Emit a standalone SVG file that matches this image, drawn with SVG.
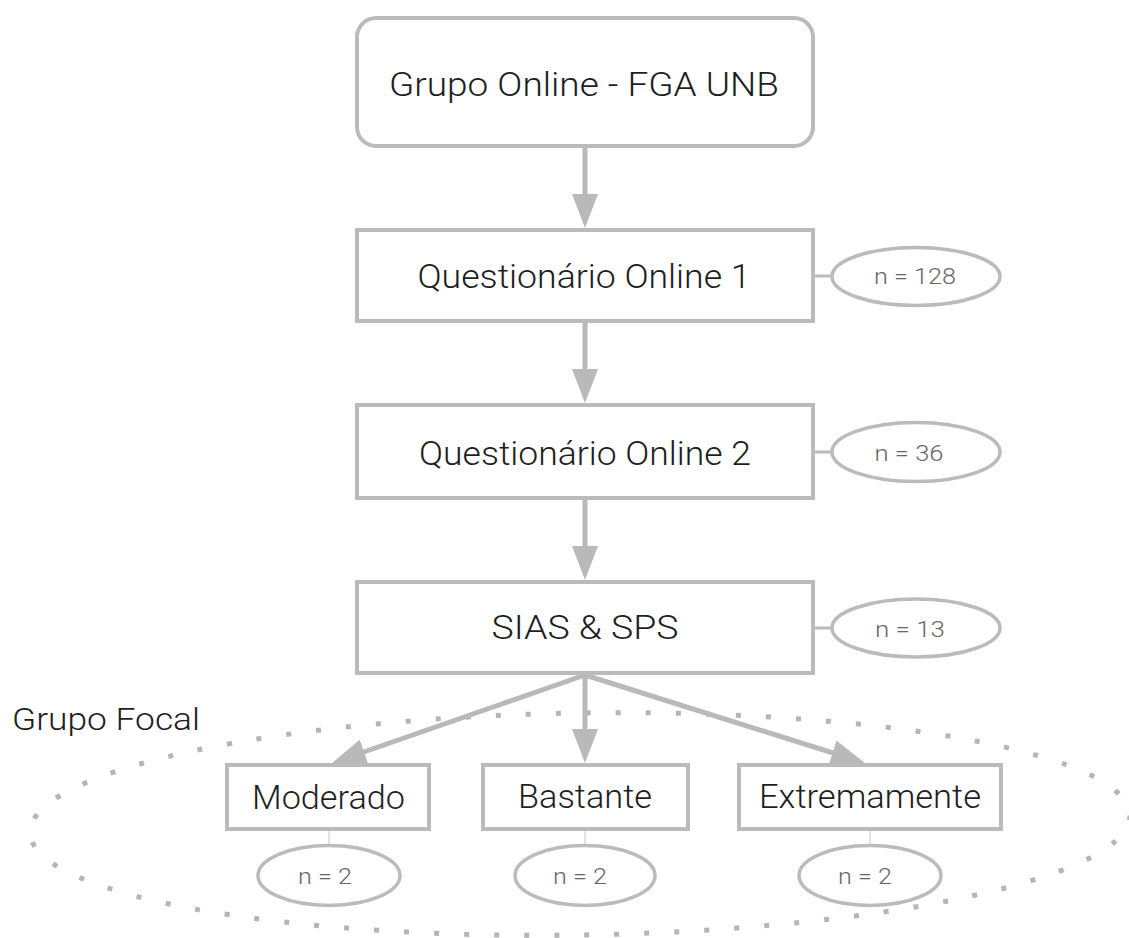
<svg xmlns="http://www.w3.org/2000/svg" width="1129" height="938" viewBox="0 0 1129 938">
  <style>
    .box { fill: #ffffff; stroke: #bbbbbb; stroke-width: 4; }
    .count { fill: #ffffff; stroke: #bbbbbb; stroke-width: 3.5; }
    .label { font-family: Roboto, "Liberation Sans", Arial, sans-serif; font-weight: 300; font-size: 34px; fill: #1e1e1e; text-anchor: middle; }
    .small { font-size: 32px; }
    .n { font-family: Roboto, "Liberation Sans", Arial, sans-serif; font-weight: 300; font-size: 22px; fill: #666666; text-anchor: middle; }
    .flow { stroke: #b9b9b9; stroke-width: 5; fill: none; }
    .tie { stroke: #bbbbbb; stroke-width: 3; fill: none; }
    .tie-thin { stroke: #d2d2d2; stroke-width: 1.2; fill: none; }
  </style>
  <defs>
    <marker id="head" markerUnits="userSpaceOnUse" markerWidth="34" markerHeight="26" viewBox="0 0 34 26" refX="14" refY="13" orient="auto">
      <path d="M0,0 L34,13 L0,26 Z" fill="#b9b9b9"/>
    </marker>
  </defs>

  <rect width="1129" height="938" fill="#ffffff"/>

  <!-- focal group boundary -->
  <g id="grupo-focal">
    <ellipse cx="580" cy="824" rx="550" ry="111" transform="rotate(-0.9 580 824)" fill="none" stroke="#b5b5b5" stroke-width="5" stroke-dasharray="5 25" pathLength="2310"/>
    <text x="12" y="730" class="label small" style="text-anchor:start" textLength="188" lengthAdjust="spacingAndGlyphs">Grupo Focal</text>
  </g>

  <!-- connectors -->
  <g id="connectors">
    <line class="flow" x1="585" y1="148" x2="585" y2="208" marker-end="url(#head)"/>
    <line class="flow" x1="585" y1="323" x2="585" y2="383" marker-end="url(#head)"/>
    <line class="flow" x1="585" y1="500" x2="585" y2="560" marker-end="url(#head)"/>
    <line class="flow" x1="585" y1="675" x2="585" y2="743" marker-end="url(#head)"/>
    <line class="flow" x1="585" y1="675" x2="350.9" y2="756.5" marker-end="url(#head)"/>
    <line class="flow" x1="585" y1="675" x2="845.9" y2="757" marker-end="url(#head)"/>

    <line class="tie" x1="815" y1="276" x2="832" y2="276"/>
    <line class="tie" x1="815" y1="452" x2="832" y2="452"/>
    <line class="tie" x1="815" y1="628" x2="832" y2="628"/>

    <line class="tie-thin" x1="329" y1="831" x2="329" y2="845"/>
    <line class="tie-thin" x1="585" y1="831" x2="585" y2="845"/>
    <line class="tie-thin" x1="870" y1="831" x2="870" y2="845"/>
  </g>

  <g id="grupo-online">
    <rect class="box" x="357" y="18" width="456" height="128" rx="19"/>
    <text class="label" x="584" y="96" textLength="390" lengthAdjust="spacingAndGlyphs">Grupo Online - FGA UNB</text>
  </g>

  <g id="questionario-1">
    <rect class="box" x="357" y="230" width="456" height="91"/>
    <text class="label" x="584" y="288" textLength="333" lengthAdjust="spacingAndGlyphs">Questionário Online 1</text>
  </g>
  <g id="n-128">
    <ellipse class="count" cx="916" cy="276.5" rx="84" ry="29"/>
    <text class="n" x="915" y="284" textLength="82" lengthAdjust="spacingAndGlyphs">n = 128</text>
  </g>

  <g id="questionario-2">
    <rect class="box" x="357" y="405" width="456" height="93"/>
    <text class="label" x="585" y="465" textLength="332" lengthAdjust="spacingAndGlyphs">Questionário Online 2</text>
  </g>
  <g id="n-36">
    <ellipse class="count" cx="916" cy="452" rx="84" ry="29.5"/>
    <text class="n" x="909" y="461" textLength="69" lengthAdjust="spacingAndGlyphs">n = 36</text>
  </g>

  <g id="sias-sps">
    <rect class="box" x="357" y="582" width="456" height="91"/>
    <text class="label" x="585" y="639" textLength="187" lengthAdjust="spacingAndGlyphs">SIAS &amp; SPS</text>
  </g>
  <g id="n-13">
    <ellipse class="count" cx="916" cy="628" rx="84" ry="29"/>
    <text class="n" x="910" y="637" textLength="70" lengthAdjust="spacingAndGlyphs">n = 13</text>
  </g>

  <g id="moderado">
    <rect class="box" x="227" y="765" width="202" height="64"/>
    <text class="label" x="328.5" y="809" textLength="153" lengthAdjust="spacingAndGlyphs">Moderado</text>
  </g>
  <g id="n-moderado">
    <ellipse class="count" cx="329" cy="875.5" rx="71" ry="30"/>
    <text class="n" x="325" y="884" textLength="54" lengthAdjust="spacingAndGlyphs">n = 2</text>
  </g>

  <g id="bastante">
    <rect class="box" x="483" y="765" width="205" height="64"/>
    <text class="label" x="585" y="808" textLength="134" lengthAdjust="spacingAndGlyphs">Bastante</text>
  </g>
  <g id="n-bastante">
    <ellipse class="count" cx="585" cy="875.5" rx="70" ry="30"/>
    <text class="n" x="580" y="884" textLength="54" lengthAdjust="spacingAndGlyphs">n = 2</text>
  </g>

  <g id="extremamente">
    <rect class="box" x="739" y="765" width="262" height="64"/>
    <text class="label" x="870" y="808" textLength="222" lengthAdjust="spacingAndGlyphs">Extremamente</text>
  </g>
  <g id="n-extremamente">
    <ellipse class="count" cx="870" cy="875.5" rx="71" ry="30"/>
    <text class="n" x="865" y="884" textLength="54" lengthAdjust="spacingAndGlyphs">n = 2</text>
  </g>
</svg>
